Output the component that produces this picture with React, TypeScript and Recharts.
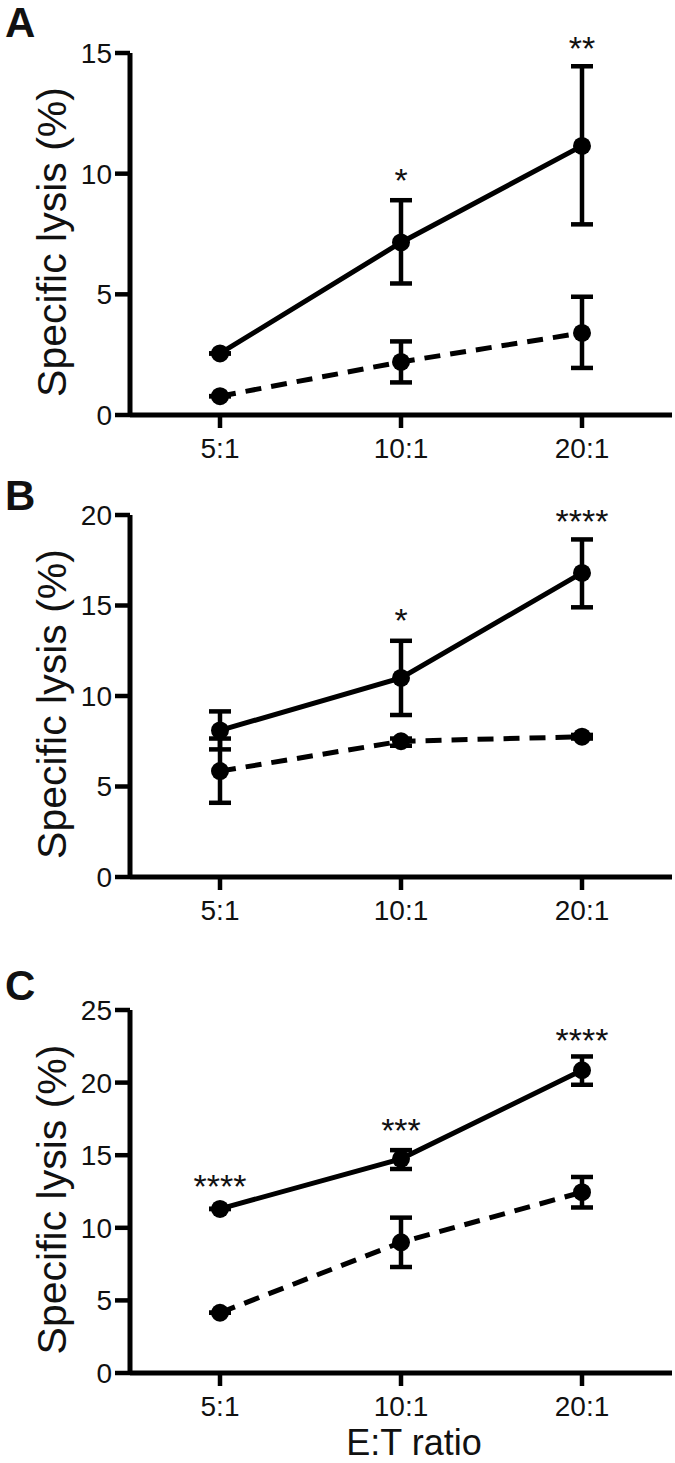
import React from 'react';
import { LineChart, Line, XAxis, YAxis, ErrorBar, ReferenceDot } from 'recharts';

const FONT = '"Liberation Sans", Arial, Helvetica, sans-serif';

// Categories
const ratios = ['5:1', '10:1', '20:1'];

// Panel A
const solidA = [2.55, 7.15, 11.15];
const solidErrA = [[0, 0], [1.7, 1.75], [3.25, 3.3]];
const dashedA = [0.78, 2.2, 3.4];
const dashedErrA = [[0, 0], [0.85, 0.85], [1.45, 1.5]];
const sigTextA = ['', '*', '**'];
const sigYA = [null, 10.07, 15.54];
const ticksA = [0, 5, 10, 15];

// Panel B
const solidB = [8.1, 11.0, 16.8];
const solidErrB = [[1.05, 1.05], [2.05, 2.05], [1.9, 1.85]];
const dashedB = [5.85, 7.5, 7.75];
const dashedErrB = [[1.75, 1.8], [0.25, 0.15], [0.1, 0.1]];
const sigTextB = ['', '*', '****'];
const sigYB = [null, 14.66, 20.1];
const ticksB = [0, 5, 10, 15, 20];

// Panel C
const solidC = [11.3, 14.75, 20.85];
const solidErrC = [[0, 0], [0.7, 0.6], [1.0, 0.95]];
const dashedC = [4.15, 9.0, 12.45];
const dashedErrC = [[0, 0], [1.7, 1.7], [1.05, 1.05]];
const sigTextC = ['****', '***', '****'];
const sigYC = [13.43, 17.3, 23.5];
const ticksC = [0, 5, 10, 15, 20, 25];

const panelLetters = ['A', 'B', 'C'];

function buildData(solid: number[], solidErr: number[][], dashed: number[], dashedErr: number[][]) {
  return ratios.map((r, i) => ({
    ratio: r,
    solid: solid[i],
    solidErr: solidErr[i],
    dashed: dashed[i],
    dashedErr: dashedErr[i],
  }));
}

const panels = [
  { letter: panelLetters[0], data: buildData(solidA, solidErrA, dashedA, dashedErrA), sig: sigTextA, sigY: sigYA, ticks: ticksA, top: 0, plotH: 362, xLabel: false, letterTop: 1.5 },
  { letter: panelLetters[1], data: buildData(solidB, solidErrB, dashedB, dashedErrB), sig: sigTextB, sigY: sigYB, ticks: ticksB, top: 462, plotH: 362, xLabel: false, letterTop: 474.5 },
  { letter: panelLetters[2], data: buildData(solidC, solidErrC, dashedC, dashedErrC), sig: sigTextC, sigY: sigYC, ticks: ticksC, top: 957, plotH: 363, xLabel: true, letterTop: 964.5 },
];

const MARGIN_TOP = 53;

function Panel({ p }: { p: any }) {
  const xAxisH = p.xLabel ? 90 : 60;
  const height = MARGIN_TOP + p.plotH + xAxisH;
  const max = p.ticks[p.ticks.length - 1];
  return (
    <div style={{ position: 'absolute', left: 0, top: p.top, width: 675, height }}>
      <LineChart
        width={675}
        height={height}
        data={p.data}
        margin={{ top: MARGIN_TOP, right: 3, bottom: 0, left: 30 }}
        style={{ fontFamily: FONT }}
      >
        <XAxis
          dataKey="ratio"
          type="category"
          padding={{ left: 90, right: 90 }}
          height={xAxisH}
          axisLine={{ stroke: '#000', strokeWidth: 5 }}
          tickLine={{ stroke: '#000', strokeWidth: 4.5 }}
          tickSize={13}
          tickMargin={10}
          tick={{ fontSize: 28, fill: '#111', fontFamily: FONT }}
          interval={0}
          label={
            p.xLabel
              ? (props: any) => {
                  const vb = props.viewBox;
                  return (
                    <text x={vb.x + vb.width / 2 + 13} y={vb.y + 82} textAnchor="middle" fontSize={36} fill="#111" fontFamily={FONT}>
                      E:T ratio
                    </text>
                  );
                }
              : undefined
          }
        />
        <YAxis
          type="number"
          domain={[0, max]}
          ticks={p.ticks}
          interval={0}
          width={100}
          axisLine={{ stroke: '#000', strokeWidth: 5 }}
          tickLine={{ stroke: '#000', strokeWidth: 4.5 }}
          tickSize={15}
          tickMargin={3}
          tick={{ fontSize: 28, fill: '#111', fontFamily: FONT }}
          label={(props: any) => {
            const vb = props.viewBox;
            const cx = 52;
            const cy = vb.y + vb.height / 2 + 8;
            return (
              <text
                x={cx}
                y={cy}
                transform={`rotate(-90, ${cx}, ${cy})`}
                textAnchor="middle"
                dominantBaseline="central"
                fontSize={41}
                fill="#111"
                fontFamily={FONT}
              >
                Specific lysis (%)
              </text>
            );
          }}
        />
        <Line
          type="linear"
          dataKey="dashed"
          stroke="#000"
          strokeWidth={5}
          strokeDasharray="16 10"
          dot={{ r: 9, fill: '#000', stroke: 'none', strokeDasharray: '' }}
          activeDot={false}
          isAnimationActive={false}
        >
          <ErrorBar dataKey="dashedErr" width={11} strokeWidth={4.5} stroke="#000" direction="y" isAnimationActive={false} />
        </Line>
        <Line
          type="linear"
          dataKey="solid"
          stroke="#000"
          strokeWidth={5}
          dot={{ r: 9, fill: '#000', stroke: 'none' }}
          activeDot={false}
          isAnimationActive={false}
        >
          <ErrorBar dataKey="solidErr" width={11} strokeWidth={4.5} stroke="#000" direction="y" isAnimationActive={false} />
        </Line>
        {ratios.map((r, i) =>
          p.sig[i] && p.sigY[i] != null ? (
            <ReferenceDot
              key={`sig-${i}`}
              x={r}
              y={p.sigY[i]}
              r={0}
              ifOverflow="visible"
              fill="none"
              stroke="none"
              label={(props: any) => {
                const vb = props.viewBox;
                return (
                  <text x={vb.x + (vb.width || 0) / 2} y={vb.y + (vb.height || 0) / 2 + 20} textAnchor="middle" fontSize={34} fill="#111" fontFamily={FONT}>
                    {p.sig[i]}
                  </text>
                );
              }}
            />
          ) : null
        )}
      </LineChart>
    </div>
  );
}

export default function App() {
  return (
    <div style={{ position: 'absolute', left: 0, top: 0, width: 675, height: 1463, background: '#fff', fontFamily: FONT }}>
      {panels.map((p) => (
        <Panel key={p.letter} p={p} />
      ))}
      {panels.map((p) => (
        <div
          key={`l-${p.letter}`}
          style={{ position: 'absolute', left: 5, top: p.letterTop, fontSize: 42, fontWeight: 'bold', lineHeight: 1, color: '#111', fontFamily: FONT }}
        >
          {p.letter}
        </div>
      ))}
    </div>
  );
}
